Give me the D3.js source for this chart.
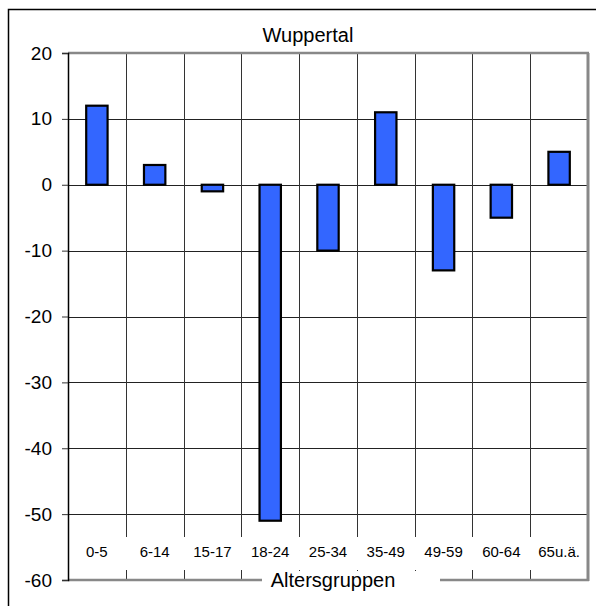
<!DOCTYPE html>
<html lang="en">
<head>
    <meta charset="UTF-8">
    <title>Wuppertal</title>
    <script src="https://cdn.jsdelivr.net/npm/d3@7"></script>
    <style>
        html, body {
            margin: 0;
            background: white;
            font-family: "Liberation Sans", Arial, sans-serif;
        }
    </style>
</head>
<body>
    <div id="vis"></div>
    <script>

        // data
        var groups = ["0-5", "6-14", "15-17", "18-24", "25-34", "35-49", "49-59", "60-64", "65u.ä."];
        var values = [12, 3, -1, -51, -10, 11, -13, -5, 5];
        var yTicks = [20, 10, 0, -10, -20, -30, -40, -50, -60];
        var chartTitle = "Wuppertal";
        var xTitle = "Altersgruppen";

        var width = 596,
            height = 606;

        var plot = {left: 68, right: 588, top: 53, bottom: 580};

        var svg = d3.select('#vis')
                    .append('svg')
                        .attr('width', width)
                        .attr('height', height);

        // outer frame (right and bottom edges fall outside the picture)
        svg.append('rect')
            .attr('x', 8.5)
            .attr('y', 9.5)
            .attr('width', 700)
            .attr('height', 700)
            .attr('fill', 'white')
            .attr('stroke', 'black')
            .attr('stroke-width', 1.5);

        var x = d3.scaleBand()
                    .domain(groups)
                    .range([plot.left, plot.right])
                    .padding(0);

        var y = d3.scaleLinear()
                    .domain([-60, 20])
                    .range([plot.bottom, plot.top]);

        function crisp(v){ return Math.round(v) + 0.5; }

        // horizontal gridlines
        svg.append('g')
            .attr('class', 'grid')
            .selectAll('line')
            .data(yTicks)
            .enter()
            .append('line')
                .attr('x1', plot.left)
                .attr('x2', plot.right)
                .attr('y1', function(d){ return crisp(y(d)); })
                .attr('y2', function(d){ return crisp(y(d)); })
                .attr('stroke', '#222')
                .attr('stroke-width', 1);

        // vertical gridlines at category boundaries
        svg.append('g')
            .attr('class', 'vgrid')
            .selectAll('line')
            .data(groups.slice(1))
            .enter()
            .append('line')
                .attr('x1', function(d){ return crisp(x(d)); })
                .attr('x2', function(d){ return crisp(x(d)); })
                .attr('y1', plot.top)
                .attr('y2', plot.bottom)
                .attr('stroke', '#333')
                .attr('stroke-width', 1);

        // white band behind category labels
        svg.append('rect')
            .attr('x', plot.left + 1)
            .attr('y', 537)
            .attr('width', plot.right - plot.left - 2)
            .attr('height', 33)
            .attr('fill', 'white');

        // plot borders
        svg.append('line')
            .attr('x1', plot.left).attr('x2', plot.right + 1)
            .attr('y1', plot.top).attr('y2', plot.top)
            .attr('stroke', '#888').attr('stroke-width', 2.5);

        svg.append('line')
            .attr('x1', plot.right).attr('x2', plot.right)
            .attr('y1', plot.top).attr('y2', plot.bottom + 1)
            .attr('stroke', '#888').attr('stroke-width', 3);

        svg.append('line')
            .attr('x1', plot.left).attr('x2', plot.right + 1)
            .attr('y1', plot.bottom).attr('y2', plot.bottom)
            .attr('stroke', '#888').attr('stroke-width', 2.5);

        // white box behind the axis title
        svg.append('rect')
            .attr('x', 262)
            .attr('y', 571)
            .attr('width', 178)
            .attr('height', 28)
            .attr('fill', 'white');

        // bars
        var barW = x.bandwidth() * 0.37;

        svg.selectAll('.bar')
            .data(values)
            .enter()
            .append('rect')
                .attr('class', 'bar')
                .attr('x', function(d, i){ return x(groups[i]) + x.bandwidth() / 2 - barW / 2; })
                .attr('y', function(d){ return y(Math.max(0, d)); })
                .attr('width', barW)
                .attr('height', function(d){ return Math.abs(y(d) - y(0)); })
                .attr('fill', '#3366ff')
                .attr('stroke', 'black')
                .attr('stroke-width', 2.2);

        // y axis
        svg.append('g')
            .attr('class', 'y axis')
            .attr('transform', 'translate(' + plot.left + ',0)')
            .call(d3.axisLeft(y)
                    .tickValues(yTicks)
                    .tickSize(6)
                    .tickPadding(10)
                    .tickFormat(function(d){ return String(d); }))
            .call(function(g){
                g.select('.domain').attr('stroke', 'black').attr('stroke-width', 1.5);
                g.selectAll('line').attr('stroke', '#333');
                g.selectAll('text')
                    .attr('font-size', '19px')
                    .attr('font-family', '"Liberation Sans", Arial, sans-serif')
                    .attr('fill', 'black');
            });

        // category labels
        svg.selectAll('.cat')
            .data(groups)
            .enter()
            .append('text')
                .attr('class', 'cat')
                .attr('x', function(d){ return x(d) + x.bandwidth() / 2; })
                .attr('y', 557)
                .attr('text-anchor', 'middle')
                .attr('font-size', '15px')
                .text(function(d){ return d; });

        // titles
        svg.append('text')
            .attr('x', 308)
            .attr('y', 42)
            .attr('text-anchor', 'middle')
            .attr('font-size', '20px')
            .text(chartTitle);

        svg.append('text')
            .attr('x', 333)
            .attr('y', 587)
            .attr('text-anchor', 'middle')
            .attr('font-size', '20px')
            .text(xTitle);

    </script>
</body>
</html>
